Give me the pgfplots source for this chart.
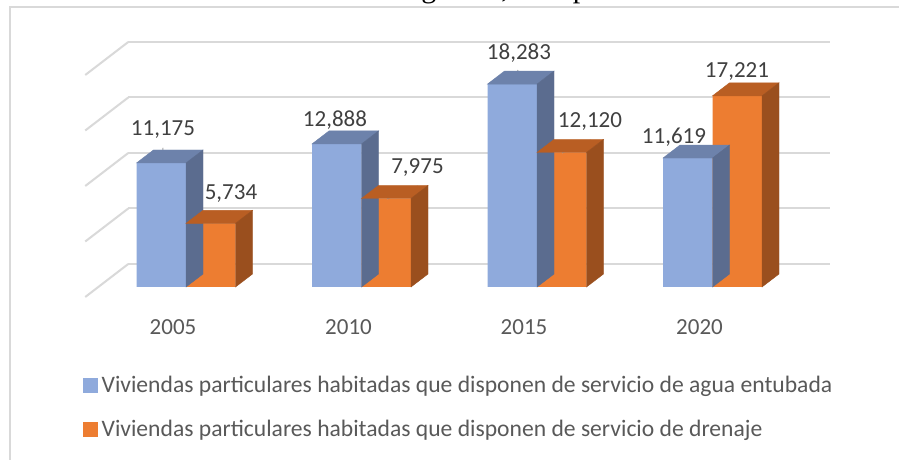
\documentclass[border=0pt]{standalone}
\usepackage{pgfplots}
\pgfplotsset{compat=1.18}
\usepackage{pgfplotstable}
\usepackage{fontspec}
\setmainfont{Carlito}
\newfontfamily\titlefont{Liberation Serif}

\definecolor{bluefront}{HTML}{8FAADC}
\definecolor{bluetop}{HTML}{6D82AB}
\definecolor{blueside}{HTML}{5B6C8F}
\definecolor{orfront}{HTML}{ED7D31}
\definecolor{ortop}{HTML}{B95E23}
\definecolor{orside}{HTML}{9A4F1E}
\definecolor{gridc}{HTML}{D9D9D9}
\definecolor{labc}{HTML}{404040}
\definecolor{txtc}{HTML}{595959}
\definecolor{leadc}{HTML}{A6A6A6}

% x = category index, y = value, dx/dy = label offset (pt)
\pgfplotstableread{
x y dx dy
0 11175 -23 33
1 12888 -26.5 24
2 18283 -18 31
3 11619 -38.5 21
}\agua
\pgfplotstableread{
x y dx dy
0 5734 45 30
1 7975 56 30.5
2 12120 53 30.5
3 17221 24.5 24
}\drenaje

\pgfdeclareplotmark{nada}{}

% side and top faces of a bar; #1 right edge offset, #2 top colour, #3 side colour
\newcommand\barfaces[3]{%
  {\pgfkeys{/pgf/fpu=true,/pgf/fpu/output format=fixed}%
   \pgfmathparse{\val*0.0111}\xdef\barh{\pgfmathresult}}%
  \fill[#2] (#1-49.5pt,0pt) -- (#1,0pt) -- (#1+17pt,13pt) -- (#1-32.5pt,13pt) -- cycle;
  \fill[#3] (#1,0pt) -- (#1+17pt,13pt) -- (#1+17pt,13pt-\barh pt) -- (#1,-\barh pt) -- cycle;
}

\begin{document}
\begin{tikzpicture}
\useasboundingbox (0pt,0pt) rectangle (899pt,460pt);
\clip (0pt,0pt) rectangle (899pt,460pt);
\fill[white] (0pt,0pt) rectangle (899pt,460pt);
\draw[gridc, line width=1.5pt] (10pt,0pt) -- (10pt,453pt) -- (899pt,453pt);
\node[font=\titlefont\fontsize{30}{34}\selectfont, anchor=base, inner sep=0pt] at (467pt,462pt) {Las Margaritas, Chiapas};

% back wall with gridlines
\begin{axis}[at={(128.25pt,196pt)}, anchor=south west, scale only axis,
  width=702pt, height=222pt, xmin=-0.5, xmax=3.5, ymin=0, ymax=20000,
  axis line style={draw=none}, xtick=\empty, ytick={0,5000,10000,15000,20000},
  scaled y ticks=false,
  yticklabels={}, major tick length=0pt, ymajorgrids,
  grid style={gridc, line width=2pt}, clip=false]
\addplot[draw=none, forget plot] coordinates {(0,0)};
\pgfplotsinvokeforeach{0,5000,10000,15000,20000}{
  \draw[gridc, line width=2pt] (axis cs:-0.5,#1) -- ++(-43pt,-33pt);
}
\end{axis}

% bars (front plane)
\begin{axis}[at={(98.25pt,173pt)}, anchor=south west, scale only axis,
  width=702pt, height=222pt, xmin=-0.5, xmax=3.5, ymin=0, ymax=20000,
  axis line style={draw=none}, major tick length=0pt,
  ytick=\empty, scaled y ticks=false,
  xtick={0,1,2,3}, xticklabels={2005,2010,2015,2020},
  xticklabel style={anchor=center, xshift=-13pt, yshift=-40pt,
    font=\fontsize{23}{28}\selectfont, text=txtc},
  clip=false,
  /pgf/number format/.cd, fixed, precision=0, 1000 sep={,}, assume math mode=true,
  /pgfplots/.cd,
  legend cell align=left,
  legend style={at={(axis description cs:-0.0217,-0.40)}, anchor=north west,
    draw=none, fill=none, inner sep=0pt, row sep=26pt, column sep=4pt,
    font=\fontsize{23.6}{28}\selectfont, text=txtc,
    nodes={inner sep=0pt}},
]
\addplot[ybar, bar width=49.5pt, bar shift=-24.75pt, fill=bluefront, draw=none, forget plot]
  table[x=x, y=y] {\agua};
\addplot[only marks, mark=nada, scatter, point meta=explicit,
  visualization depends on={\thisrow{y} \as \val},
  scatter/@pre marker code/.code={\barfaces{0pt}{bluetop}{blueside}},
  scatter/@post marker code/.code={}, forget plot]
  table[x=x, y=y, meta=y] {\agua};
\addplot[ybar, bar width=49.5pt, bar shift=24.75pt, fill=orfront, draw=none, forget plot]
  table[x=x, y=y] {\drenaje};
\addplot[only marks, mark=nada, scatter, point meta=explicit,
  visualization depends on={\thisrow{y} \as \val},
  scatter/@pre marker code/.code={\barfaces{49.5pt}{ortop}{orside}},
  scatter/@post marker code/.code={}, forget plot]
  table[x=x, y=y, meta=y] {\drenaje};

% leader lines
\draw[leadc, line width=1pt] (axis cs:0,11175) ++(-23pt,15pt) -- ++(-1pt,-15pt);
\draw[leadc, line width=1pt] (axis cs:0,5734) ++(45pt,12.4pt) -- ++(-19pt,-12pt);
\draw[leadc, line width=1pt] (axis cs:1,7975) ++(56.5pt,12.5pt) -- ++(-31pt,-13pt);
\draw[leadc, line width=1pt] (axis cs:2,18283) ++(-19pt,14pt) -- ++(-5pt,-14pt);
\draw[leadc, line width=1pt] (axis cs:2,12120) ++(54pt,12.5pt) -- ++(-29pt,-13pt);

% data labels
\addplot[only marks, mark=nada, point meta=explicit, nodes near coords,
  visualization depends on={\thisrow{dx} \as \ldx},
  visualization depends on={\thisrow{dy} \as \ldy},
  nodes near coords style={anchor=center, xshift=\ldx pt, yshift=\ldy pt,
    font=\fontsize{23}{28}\selectfont, text=labc, inner sep=0pt},
  forget plot] table[x=x, y=y, meta=y] {\agua};
\addplot[only marks, mark=nada, point meta=explicit, nodes near coords,
  visualization depends on={\thisrow{dx} \as \ldx},
  visualization depends on={\thisrow{dy} \as \ldy},
  nodes near coords style={anchor=center, xshift=\ldx pt, yshift=\ldy pt,
    font=\fontsize{23}{28}\selectfont, text=labc, inner sep=0pt},
  forget plot] table[x=x, y=y, meta=y] {\drenaje};

\addlegendimage{legend image code/.code={\fill[bluefront] (0pt,-7pt) rectangle (14pt,7pt);}}
\addlegendentry{Viviendas particulares habitadas que disponen de servicio de agua entubada}
\addlegendimage{legend image code/.code={\fill[orfront] (0pt,-7pt) rectangle (14pt,7pt);}}
\addlegendentry{Viviendas particulares habitadas que disponen de servicio de drenaje}
\end{axis}
\end{tikzpicture}
\end{document}
